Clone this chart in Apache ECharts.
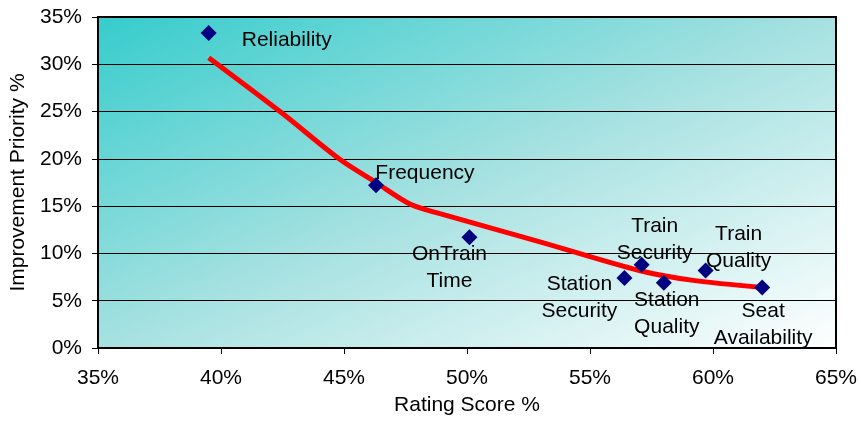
<!DOCTYPE html>
<html>
<head>
<meta charset="utf-8">
<script src="https://cdn.jsdelivr.net/npm/echarts@6/dist/echarts.min.js"></script>
<style>
* { margin: 0; padding: 0; }
#chart { width: 861px; height: 421px; background: #fff; }
</style>
</head>
<body>
<div id="chart"></div>
<script>
// attributes (rating score %, improvement priority %)
var names = ["Reliability", "Frequency", "OnTrain\nTime", "Station\nSecurity", "Train\nSecurity", "Station\nQuality", "Train\nQuality", "Seat\nAvailability"];
var ratingScore = [39.5, 46.3, 50.1, 56.4, 57.1, 58.0, 59.7, 62.0];
var priority = [33.3, 17.2, 11.7, 7.4, 8.8, 6.9, 8.2, 6.4];

// red trend curve
var trendX = [39.5, 42.4, 44.8, 46.3, 47.7, 48.9, 53.0, 57.0, 59.2, 62.0];
var trendY = [30.7, 25.0, 20.0, 17.5, 15.2, 14.2, 11.2, 8.2, 7.15, 6.4];

var xTicks = [35, 40, 45, 50, 55, 60, 65];
var yTicks = [0, 5, 10, 15, 20, 25, 30, 35];

// label placement relative to each marker
var labelOffsets = [[78, 7], [49, -12], [-20, 30], [-45, 20], [13, -25], [3, 31], [33, -23], [1, 37]];

var font = "Liberation Sans";

var points = names.map(function (n, i) {
  return {
    value: [ratingScore[i], priority[i]],
    name: n,
    label: { offset: labelOffsets[i] }
  };
});

var chart = echarts.init(document.getElementById("chart"));
chart.setOption({
  animation: false,
  grid: {
    left: 98, right: 25, top: 17, bottom: 71,
    show: true,
    borderColor: "#000",
    borderWidth: 2,
    // diagonal fill: top-left teal, bottom-right white
    backgroundColor: new echarts.graphic.LinearGradient(0, 0, 0.338, 1.662, [
      { offset: 0, color: "#36cccc" },
      { offset: 0.5, color: "#a6e1e1" },
      { offset: 1, color: "#ffffff" }
    ])
  },
  xAxis: {
    type: "value",
    min: xTicks[0], max: xTicks[xTicks.length - 1], interval: 5,
    name: "Rating Score %",
    nameLocation: "middle",
    nameGap: 47,
    nameTextStyle: { fontFamily: font, fontSize: 21, color: "#000" },
    axisLine: { show: true, lineStyle: { color: "#000", width: 2 } },
    axisTick: { show: true, length: 6, lineStyle: { color: "#000" } },
    axisLabel: { formatter: "{value}%", fontFamily: font, fontSize: 21, color: "#000", margin: 20 },
    splitLine: { show: false }
  },
  yAxis: {
    type: "value",
    min: yTicks[0], max: yTicks[yTicks.length - 1], interval: 5,
    name: "Improvement Priority %",
    nameLocation: "middle",
    nameGap: 69,
    nameTextStyle: { fontFamily: font, fontSize: 21, color: "#000" },
    axisLine: { show: true, lineStyle: { color: "#000", width: 2 } },
    axisTick: { show: true, length: 6, lineStyle: { color: "#000" } },
    axisLabel: { formatter: "{value}%", fontFamily: font, fontSize: 21, color: "#000", margin: 16 },
    splitLine: { show: true, lineStyle: { color: "#000", width: 1 } }
  },
  series: [
    {
      type: "line",
      data: trendX.map(function (x, i) { return [x, trendY[i]]; }),
      smooth: 0.3,
      showSymbol: false,
      lineStyle: { color: "#ff0000", width: 5 },
      z: 2
    },
    {
      type: "scatter",
      data: points,
      symbol: "diamond",
      symbolSize: 16,
      itemStyle: { color: "#000080", opacity: 1 },
      label: {
        show: true,
        position: "inside",
        formatter: "{b}",
        fontFamily: font,
        fontSize: 21,
        lineHeight: 27,
        color: "#000",
        align: "center",
        verticalAlign: "middle"
      },
      z: 3
    }
  ]
});
</script>
</body>
</html>
